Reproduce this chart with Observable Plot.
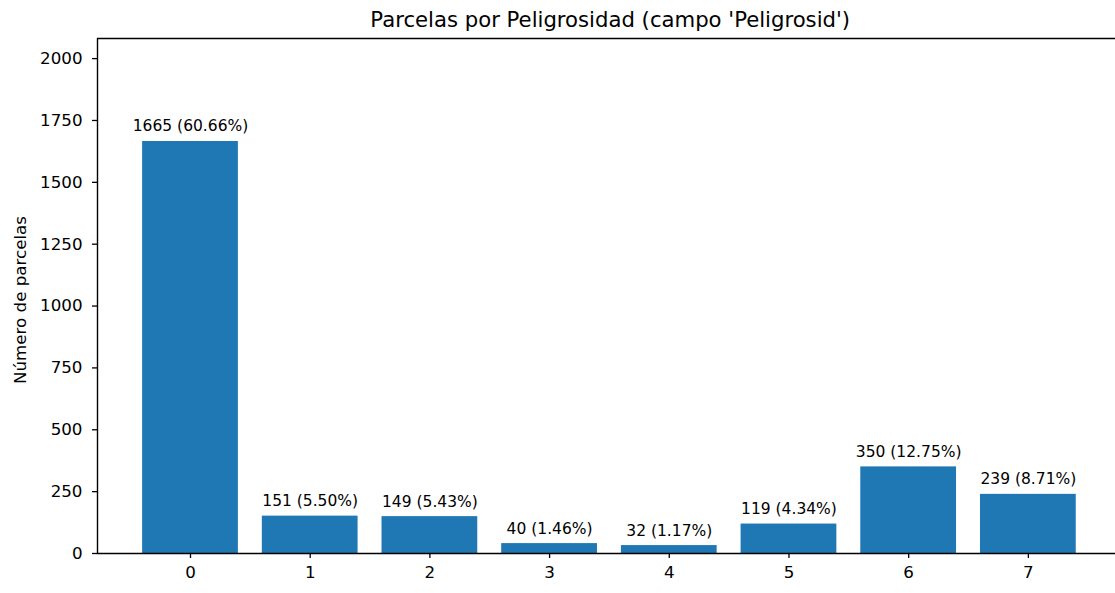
<!DOCTYPE html>
<html>
<head>
<meta charset="utf-8">
<script src="https://cdn.jsdelivr.net/npm/d3@7"></script>
<script src="https://cdn.jsdelivr.net/npm/@observablehq/plot@0.6"></script>
<style>
  html, body { margin: 0; padding: 0; background: white; overflow: hidden; }
  #chart svg { display: block; }
</style>
</head>
<body>
<div id="chart"></div>
<script>
const categories = [0, 1, 2, 3, 4, 5, 6, 7];
const counts = [1665, 151, 149, 40, 32, 119, 350, 239];
const percents = ["60.66%", "5.50%", "5.43%", "1.46%", "1.17%", "4.34%", "12.75%", "8.71%"];
const yTicks = [0, 250, 500, 750, 1000, 1250, 1500, 1750, 2000];
const titleText = "Parcelas por Peligrosidad (campo 'Peligrosid')";
const yLabel = "Número de parcelas";

const data = categories.map((c, i) => ({cat: c, count: counts[i], label: `${counts[i]} (${percents[i]})`}));
const yMax = d3.max(counts) * 1.25;
const xMin = -0.777, xMax = 7.728;
const font = "DejaVu Sans";
const blue = "#1f77b4";

const chart = Plot.plot({
  width: 1115,
  height: 593,
  marginLeft: 97,
  marginRight: 0,
  marginTop: 38,
  marginBottom: 40,
  style: {fontFamily: font, background: "white", color: "#000"},
  x: {type: "linear", domain: [xMin, xMax]},
  y: {domain: [0, yMax]},
  marks: [
    Plot.rect(data, {x1: d => d.cat - 0.4, x2: d => d.cat + 0.4, y1: 0, y2: "count", fill: blue}),
    Plot.text(data, {x: "cat", y: "count", text: "label", dy: -15, fontSize: 15.5, fill: "#000", textAnchor: "middle"}),
    Plot.axisX({ticks: categories, tickFormat: d => String(d), tickSize: 5, tickPadding: 8, fontSize: 16.7, label: null, stroke: "#000", strokeWidth: 1.3}),
    Plot.axisY({ticks: yTicks, tickFormat: d => String(d), tickSize: 5, tickPadding: 10, fontSize: 16.7, label: null, strokeWidth: 1.3}),
    Plot.ruleY([0], {stroke: "#000", strokeWidth: 1.4}),
    Plot.ruleY([yMax], {stroke: "#000", strokeWidth: 1.4}),
    Plot.ruleX([xMin], {stroke: "#000", strokeWidth: 1.4}),
    Plot.text([titleText], {x: (xMin + 7.79) / 2, y: yMax, dy: -18, fontSize: 21.2, fill: "#000", textAnchor: "middle"}),
    Plot.text([yLabel], {frameAnchor: "left", dx: -77, dy: 4, rotate: -90, fontSize: 16.7, fill: "#000", textAnchor: "middle"})
  ]
});
document.getElementById("chart").appendChild(chart);
</script>
</body>
</html>
